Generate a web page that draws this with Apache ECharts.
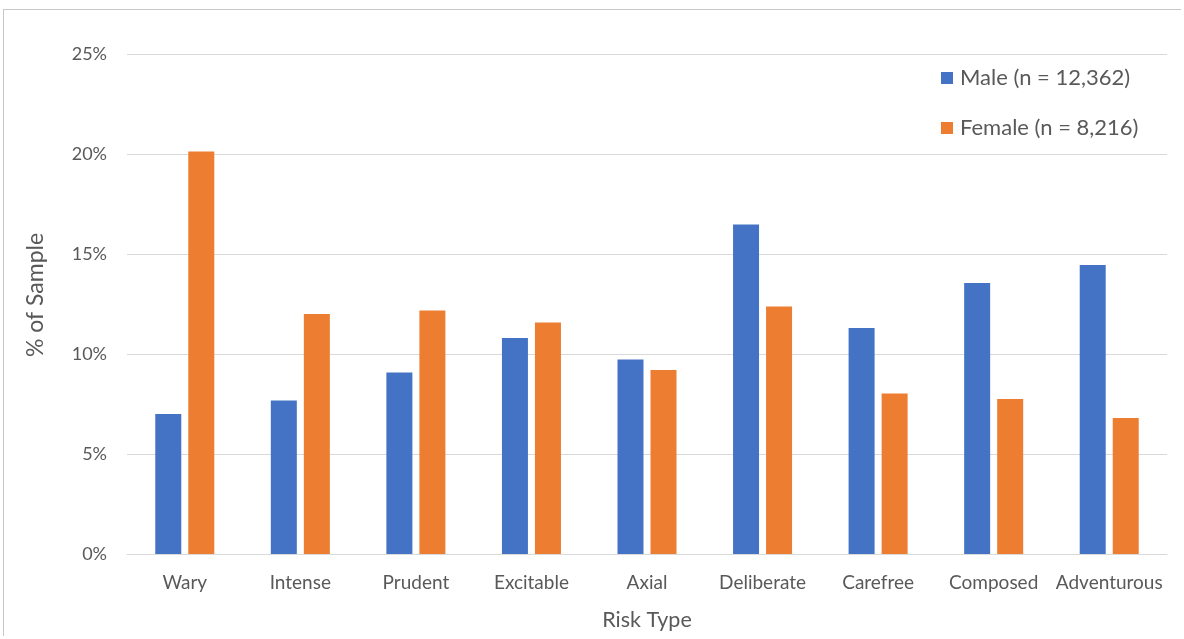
<!DOCTYPE html>
<html>
<head>
<meta charset="utf-8">
<script src="https://cdn.jsdelivr.net/npm/echarts@6/dist/echarts.min.js"></script>
<style>
html,body{margin:0;padding:0;background:#fff;}
#frame{position:absolute;left:3px;top:9px;width:1178px;height:627px;border:1px solid #C8C8C8;border-right:none;border-bottom:none;box-sizing:border-box;}
#chart{position:absolute;left:0;top:0;width:1184px;height:639px;}
</style>
</head>
<body>
<div id="frame"></div>
<div id="chart"></div>
<script>
const categories = ['Wary','Intense','Prudent','Excitable','Axial','Deliberate','Carefree','Composed','Adventurous'];
const maleValues = [7.0, 7.67, 9.07, 10.8, 9.73, 16.48, 11.3, 13.55, 14.45];
const femaleValues = [20.13, 12.0, 12.18, 11.58, 9.2, 12.37, 8.02, 7.75, 6.8];
const seriesNames = ['Male (n = 12,362)', 'Female (n = 8,216)'];
const yTicks = [0, 5, 10, 15, 20, 25];

const font = 'Lato, "Open Sans", sans-serif';
const textColor = '#595959';
const chart = echarts.init(document.getElementById('chart'));
chart.setOption({
  animation: false,
  textStyle: {fontFamily: font},
  grid: {left: 127, right: 17, top: 54, bottom: 85, containLabel: false},
  legend: {
    orient: 'vertical', left: 936, top: 62, itemGap: 28,
    itemWidth: 12, itemHeight: 12, icon: 'rect',
    textStyle: {fontFamily: font, fontSize: 22, color: textColor, padding: [0,0,0,2]},
    data: seriesNames
  },
  xAxis: {
    type: 'category', data: categories,
    name: 'Risk Type', nameLocation: 'middle', nameGap: 55,
    nameTextStyle: {fontFamily: font, fontSize: 21.5, color: textColor},
    axisTick: {show: false},
    axisLine: {lineStyle: {color: '#D9D9D9'}},
    axisLabel: {fontFamily: font, fontSize: 19, color: textColor, margin: 19, interval: 0}
  },
  yAxis: {
    type: 'value', min: yTicks[0], max: yTicks[yTicks.length-1], interval: 5,
    name: '% of Sample', nameLocation: 'middle', nameGap: 80, nameRotate: 90,
    nameTextStyle: {fontFamily: font, fontSize: 23, color: textColor, padding: [0,0,0,18]},
    axisLabel: {fontFamily: font, fontSize: 18, color: textColor, margin: 20, formatter: v => v + '%'},
    splitLine: {lineStyle: {color: '#D9D9D9'}},
    axisLine: {show: false}, axisTick: {show: false}
  },
  series: [
    {name: seriesNames[0], type: 'bar', data: maleValues, barWidth: 26, barGap: '27%',
     itemStyle: {color: '#4472C4'}},
    {name: seriesNames[1], type: 'bar', data: femaleValues, barWidth: 26, barGap: '27%',
     itemStyle: {color: '#ED7D31'}}
  ]
});
</script>
</body>
</html>
